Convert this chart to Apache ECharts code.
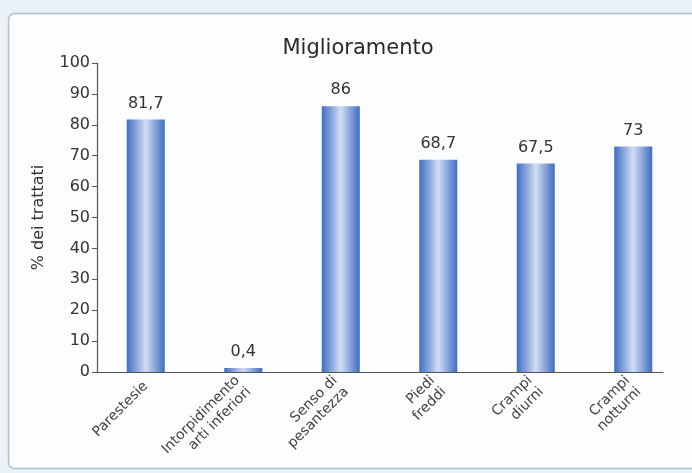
<!DOCTYPE html>
<html>
<head>
<meta charset="utf-8">
<script src="https://cdn.jsdelivr.net/npm/echarts@6/dist/echarts.min.js"></script>
<style>
  html, body { margin: 0; padding: 0; background: #eaf2f7; }
  #main { width: 692px; height: 473px; }
</style>
</head>
<body>
<div id="main"></div>
<script>
// dati
var categorie = ['Parestesie', 'Intorpidimento\narti inferiori', 'Senso di\npesantezza', 'Piedi\nfreddi', 'Crampi\ndiurni', 'Crampi\nnotturni']
var valori = [81.7, 0.4, 86, 68.7, 67.5, 73]
var tickY = [0, 10, 20, 30, 40, 50, 60, 70, 80, 90, 100]

var font = 'DejaVu Sans'
var myChart = echarts.init(document.getElementById('main'))

myChart.setOption({
  backgroundColor: '#eaf2f7',
  animation: false,
  graphic: [
    {
      type: 'rect',
      z: -10,
      shape: { x: 8.5, y: 13.5, width: 700, height: 455, r: 6 },
      style: { fill: '#fbfdfe', stroke: '#aac3d2', lineWidth: 1.5 }
    }
  ],
  title: {
    text: 'Miglioramento',
    left: 353,
    top: 33,
    textAlign: 'center',
    textStyle: { fontFamily: font, fontSize: 21, fontWeight: 'normal', color: '#2a2a2a' }
  },
  grid: [
    { left: 97, right: 10, top: 63, bottom: 101 },
    { left: 97, width: 566, top: 63, bottom: 101 }
  ],
  xAxis: [
    {
      type: 'category',
      gridIndex: 0,
      data: categorie,
      axisLine: { show: false },
      axisTick: { show: false },
      axisLabel: {
        rotate: 45,
        margin: 12,
        interval: 0,
        fontFamily: font,
        fontSize: 14,
        lineHeight: 16,
        color: '#444'
      }
    },
    {
      type: 'value',
      gridIndex: 1,
      min: 0,
      max: 1,
      axisLine: { show: true, lineStyle: { color: '#555', width: 1.2 } },
      axisTick: { show: false },
      axisLabel: { show: false },
      splitLine: { show: false }
    }
  ],
  yAxis: [
    {
      type: 'value',
      gridIndex: 0,
      min: tickY[0],
      max: tickY[tickY.length - 1],
      interval: 10,
      name: '% dei trattati',
      nameLocation: 'middle',
      nameGap: 50,
      nameTextStyle: { fontFamily: font, fontSize: 16, color: '#333' },
      axisLine: { show: true, lineStyle: { color: '#555', width: 1.2 } },
      axisTick: { show: true, length: 5, lineStyle: { color: '#555' } },
      axisLabel: { margin: 7, fontFamily: font, fontSize: 16, color: '#333' },
      splitLine: { show: false }
    },
    { type: 'value', gridIndex: 1, show: false, min: 0, max: 1 }
  ],
  series: [
    {
      type: 'bar',
      xAxisIndex: 0,
      yAxisIndex: 0,
      data: valori,
      barWidth: 38,
      barMinHeight: 4,
      itemStyle: {
        color: new echarts.graphic.LinearGradient(0, 0, 1, 0, [
          { offset: 0, color: '#3f6cc2' },
          { offset: 0.5, color: '#d2ddf4' },
          { offset: 1, color: '#3f6cc2' }
        ])
      },
      label: {
        show: true,
        position: 'top',
        distance: 8,
        fontFamily: font,
        fontSize: 16,
        color: '#333',
        formatter: function (p) { return String(p.value).replace('.', ',') }
      }
    }
  ]
})
</script>
</body>
</html>
